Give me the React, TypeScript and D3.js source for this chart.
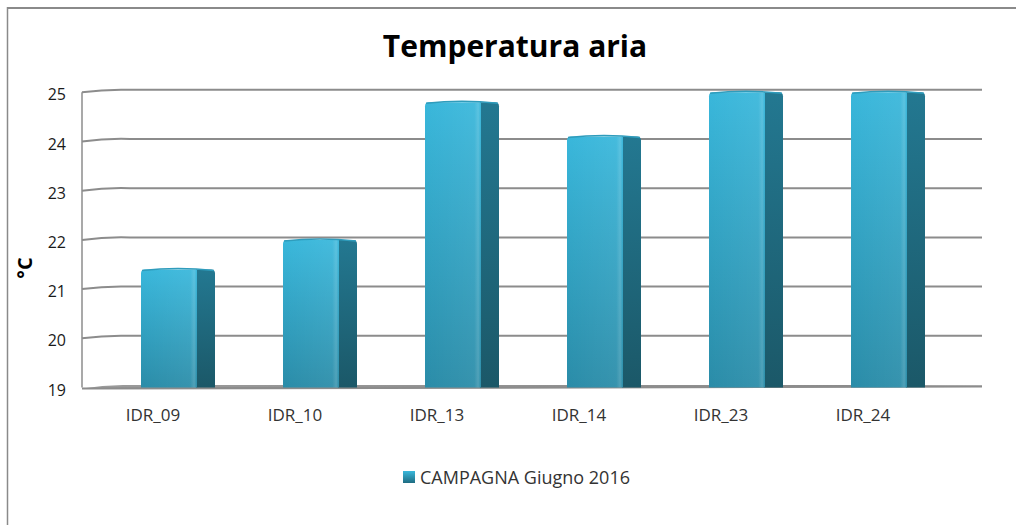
import React from 'react';
import * as d3 from 'd3';

const categories = ['IDR_09', 'IDR_10', 'IDR_13', 'IDR_14', 'IDR_23', 'IDR_24'];
const values = [21.4, 22.0, 24.8, 24.1, 25.0, 25.0];
const yTicks = [19, 20, 21, 22, 23, 24, 25];
const seriesName = 'CAMPAGNA Giugno 2016';
const title = 'Temperatura aria';
const yTitle = '°C';

const W = 1016;
const H = 525;
// front plane of the pseudo 3D plot
const left = 82;
const front = 934;
const depthX = 48;
const depthY = 2.5;

export default function App() {
  const x = d3.scaleBand<string>().domain(categories).range([left, front]);
  const y = d3.scaleLinear().domain([19, 25]).range([387.5, 92.3]);

  const barW = 56;
  const sideW = 18;
  const barShift = -12;
  const font = "'Open Sans', 'Liberation Sans', sans-serif";

  const gridPath = (v: number) => {
    const yy = y(v);
    return `M${left},${yy} Q${left + depthX * 0.5},${yy - depthY * 1.3} ${left + depthX},${yy - depthY} L${front + depthX},${yy - depthY}`;
  };

  return (
    <svg width={W} height={H} style={{ position: 'absolute', left: 0, top: 0, background: '#fff' }}>
      <defs>
        <linearGradient id="frontG" x1="0" y1="0" x2="0" y2="1">
          <stop offset="0%" stopColor="#39b7db" />
          <stop offset="100%" stopColor="#2a8ca8" />
        </linearGradient>
        <linearGradient id="frontH" x1="0" y1="0" x2="1" y2="0">
          <stop offset="0%" stopColor="#ffffff" stopOpacity="0" />
          <stop offset="88%" stopColor="#ffffff" stopOpacity="0.06" />
          <stop offset="95%" stopColor="#ffffff" stopOpacity="0.18" />
          <stop offset="100%" stopColor="#ffffff" stopOpacity="0" />
        </linearGradient>
        <linearGradient id="sideG" x1="0" y1="0" x2="0" y2="1">
          <stop offset="0%" stopColor="#237891" />
          <stop offset="100%" stopColor="#1b5868" />
        </linearGradient>
        <linearGradient id="floorG" x1="0" y1="0" x2="1" y2="0">
          <stop offset="0%" stopColor="#9a9a9a" />
          <stop offset="85%" stopColor="#8c8c8c" />
          <stop offset="100%" stopColor="#c8c8c8" />
        </linearGradient>
        <linearGradient id="legG" x1="0" y1="0" x2="0" y2="1">
          <stop offset="0%" stopColor="#3ab8dc" />
          <stop offset="100%" stopColor="#1f6c82" />
        </linearGradient>
      </defs>

      {/* chart border */}
      <line x1={7.5} y1={7} x2={7.5} y2={H} stroke="#8a8a8a" strokeWidth={1.5} />
      <line x1={7} y1={8} x2={W} y2={8} stroke="#8a8a8a" strokeWidth={2} />

      <text x={515} y={57} textAnchor="middle" fontFamily={font} fontWeight="bold" fontSize={30} fill="#000">
        {title}
      </text>

      {/* gridlines */}
      {yTicks.slice(1).map(t => (
        <path key={t} d={gridPath(t)} fill="none" stroke="#8c8c8c" strokeWidth={2} />
      ))}
      {/* left wall edge */}
      <line x1={left} y1={y(25)} x2={left} y2={y(19)} stroke="#8c8c8c" strokeWidth={1.5} />
      {/* floor */}
      <path
        d={`M${left},${y(19) + 1} Q${left + depthX * 0.5},${y(19) - depthY * 1.3} ${left + depthX},${y(19) - depthY} L${front + depthX},${y(19) - depthY} L${front + depthX},${y(19) - 0.5} L${left},${y(19) + 1.5}Z`}
        fill="url(#floorG)"
      />
      <line x1={left} y1={y(19) + 1} x2={front + depthX} y2={y(19) - 1} stroke="#8c8c8c" strokeWidth={2.2} />

      {/* y tick labels */}
      {yTicks.map(t => (
        <text key={t} x={66} y={y(t) + 8} textAnchor="end" fontFamily={font} fontSize={16} fill="#1a1a1a">
          {t}
        </text>
      ))}
      <text
        transform="translate(32,268) rotate(-90)"
        textAnchor="middle"
        fontFamily={font}
        fontWeight="bold"
        fontSize={20}
        fill="#000"
      >
        {yTitle}
      </text>

      {/* bars */}
      {categories.map((c, i) => {
        const cx = (x(c) as number) + x.bandwidth() / 2;
        const x0 = cx + barShift;
        const top = y(values[i]);
        const bottom = y(19);
        const r = 4;
        return (
          <g key={c}>
            <path
              d={`M${x0 + barW - 1},${top} L${x0 + barW + sideW - r},${top} Q${x0 + barW + sideW},${top} ${x0 + barW + sideW},${top + r} L${x0 + barW + sideW},${bottom} L${x0 + barW - 1},${bottom}Z`}
              fill="url(#sideG)"
            />
            <path
              d={`M${x0},${bottom} L${x0},${top + r} Q${x0},${top} ${x0 + r},${top} L${x0 + barW},${top} L${x0 + barW},${bottom}Z`}
              fill="url(#frontG)"
            />
            <path
              d={`M${x0},${bottom} L${x0},${top + r} Q${x0},${top} ${x0 + r},${top} L${x0 + barW},${top} L${x0 + barW},${bottom}Z`}
              fill="url(#frontH)"
            />
            <path
              d={`M${x0 + 1},${top + 1} Q${x0 + barW / 2 + sideW / 2},${top - 3} ${x0 + barW + sideW - 1},${top + 1}`}
              fill="none"
              stroke="#2f9cbc"
              strokeWidth={1.5}
            />
          </g>
        );
      })}

      {/* x labels */}
      {categories.map(c => (
        <text
          key={c}
          x={(x(c) as number) + x.bandwidth() / 2}
          y={421}
          textAnchor="middle"
          fontFamily={font}
          fontSize={17}
          fill="#333"
        >
          {c}
        </text>
      ))}

      {/* legend */}
      <rect x={403} y={471} width={12} height={12} fill="url(#legG)" />
      <text x={420} y={484} fontFamily={font} fontSize={18} fill="#333">
        {seriesName}
      </text>
    </svg>
  );
}
